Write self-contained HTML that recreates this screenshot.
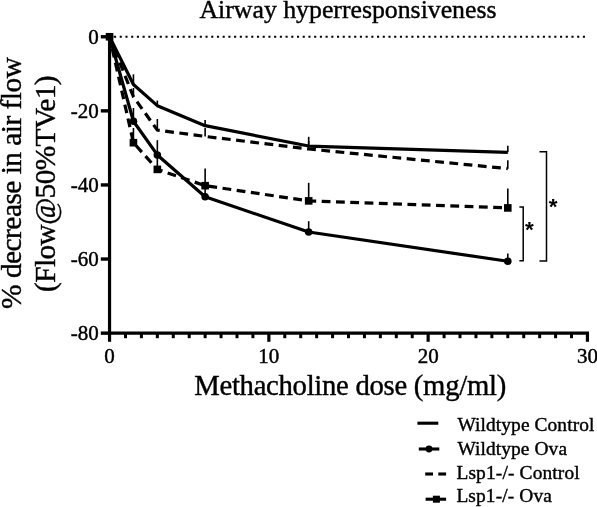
<!DOCTYPE html>
<html><head><meta charset="utf-8"><title>Airway hyperresponsiveness</title>
<style>html,body{margin:0;padding:0;background:#fff}svg{display:block}</style></head>
<body>
<svg width="597" height="507" viewBox="0 0 597 507">
<rect width="597" height="507" fill="#fff"/>
<line x1="114.0" y1="36.75" x2="585.2" y2="36.75" stroke="#000" stroke-width="2.1" stroke-dasharray="2.1 3.618"/>
<line x1="133.44" y1="84.54" x2="133.44" y2="74.3" stroke="#000" stroke-width="1.6"/>
<line x1="157.34" y1="105.66" x2="157.34" y2="100.5" stroke="#000" stroke-width="1.6"/>
<line x1="205.13" y1="125.67" x2="205.13" y2="120" stroke="#000" stroke-width="1.6"/>
<line x1="308.68" y1="146.05" x2="308.68" y2="136.8" stroke="#000" stroke-width="1.6"/>
<line x1="507.8" y1="152.35" x2="507.8" y2="145.8" stroke="#000" stroke-width="1.6"/>
<line x1="133.44" y1="96.77" x2="133.44" y2="88" stroke="#000" stroke-width="1.6"/>
<line x1="157.34" y1="130.12" x2="157.34" y2="119" stroke="#000" stroke-width="1.6"/>
<line x1="205.13" y1="136.41" x2="205.13" y2="128" stroke="#000" stroke-width="1.6"/>
<line x1="308.68" y1="149.01" x2="308.68" y2="141" stroke="#000" stroke-width="1.6"/>
<line x1="507.8" y1="168.65" x2="507.8" y2="160.2" stroke="#000" stroke-width="1.6"/>
<line x1="133.44" y1="121.22" x2="133.44" y2="108" stroke="#000" stroke-width="1.6"/>
<line x1="157.34" y1="154.94" x2="157.34" y2="140.2" stroke="#000" stroke-width="1.6"/>
<line x1="205.13" y1="196.81" x2="205.13" y2="188" stroke="#000" stroke-width="1.6"/>
<line x1="308.68" y1="232.0" x2="308.68" y2="221.2" stroke="#000" stroke-width="1.6"/>
<line x1="507.8" y1="261.27" x2="507.8" y2="253.4" stroke="#000" stroke-width="1.6"/>
<line x1="133.44" y1="142.71" x2="133.44" y2="128" stroke="#000" stroke-width="1.6"/>
<line x1="157.34" y1="169.39" x2="157.34" y2="158" stroke="#000" stroke-width="1.6"/>
<line x1="205.13" y1="185.69" x2="205.13" y2="168.4" stroke="#000" stroke-width="1.6"/>
<line x1="308.68" y1="200.88" x2="308.68" y2="182.8" stroke="#000" stroke-width="1.6"/>
<line x1="507.8" y1="207.92" x2="507.8" y2="188.4" stroke="#000" stroke-width="1.6"/>
<polyline points="109.55,36.75 133.44,84.54 157.34,105.66 205.13,125.67 308.68,146.05 507.8,152.35" fill="none" stroke="#000" stroke-width="3.2" stroke-linejoin="round"/>
<polyline points="109.55,36.75 133.44,96.77 157.34,130.12 205.13,136.41 308.68,149.01 507.8,168.65" fill="none" stroke="#000" stroke-width="3.2" stroke-linejoin="round" stroke-dasharray="8.8 5.5" stroke-dashoffset="0.87"/>
<polyline points="109.55,36.75 133.44,121.22 157.34,154.94 205.13,196.81 308.68,232.0 507.8,261.27" fill="none" stroke="#000" stroke-width="3.2" stroke-linejoin="round"/>
<polyline points="109.55,36.75 133.44,142.71 157.34,169.39 205.13,185.69 308.68,200.88 507.8,207.92" fill="none" stroke="#000" stroke-width="3.2" stroke-linejoin="round" stroke-dasharray="8.8 5.5" stroke-dashoffset="1.98"/>
<circle cx="109.55" cy="36.75" r="3.8" fill="#000"/>
<circle cx="133.44" cy="121.22" r="3.8" fill="#000"/>
<circle cx="157.34" cy="154.94" r="3.8" fill="#000"/>
<circle cx="205.13" cy="196.81" r="3.8" fill="#000"/>
<circle cx="308.68" cy="232.0" r="3.8" fill="#000"/>
<circle cx="507.8" cy="261.27" r="3.8" fill="#000"/>
<rect x="105.75" y="32.95" width="7.6" height="7.6" fill="#000"/>
<rect x="129.64" y="138.91" width="7.6" height="7.6" fill="#000"/>
<rect x="153.54" y="165.58999999999997" width="7.6" height="7.6" fill="#000"/>
<rect x="201.32999999999998" y="181.89" width="7.6" height="7.6" fill="#000"/>
<rect x="304.88" y="197.07999999999998" width="7.6" height="7.6" fill="#000"/>
<rect x="504.0" y="204.11999999999998" width="7.6" height="7.6" fill="#000"/>
<line x1="109.55" y1="35.05" x2="109.55" y2="334.8" stroke="#000" stroke-width="3.2"/>
<line x1="107.95" y1="333.1" x2="589" y2="333.1" stroke="#000" stroke-width="3.4"/>
<line x1="100.8" y1="36.75" x2="109.55" y2="36.75" stroke="#000" stroke-width="3.4"/>
<line x1="100.8" y1="110.85" x2="109.55" y2="110.85" stroke="#000" stroke-width="3.4"/>
<line x1="100.8" y1="184.95" x2="109.55" y2="184.95" stroke="#000" stroke-width="3.4"/>
<line x1="100.8" y1="259.05" x2="109.55" y2="259.05" stroke="#000" stroke-width="3.4"/>
<line x1="100.8" y1="333.15" x2="109.55" y2="333.15" stroke="#000" stroke-width="3.4"/>
<line x1="109.55" y1="333.1" x2="109.55" y2="341.8" stroke="#000" stroke-width="3.2"/>
<line x1="125.48" y1="333.1" x2="125.48" y2="338.2" stroke="#000" stroke-width="3"/>
<line x1="141.41" y1="333.1" x2="141.41" y2="338.2" stroke="#000" stroke-width="3"/>
<line x1="157.34" y1="333.1" x2="157.34" y2="338.2" stroke="#000" stroke-width="3"/>
<line x1="173.27" y1="333.1" x2="173.27" y2="338.2" stroke="#000" stroke-width="3"/>
<line x1="189.2" y1="333.1" x2="189.2" y2="338.2" stroke="#000" stroke-width="3"/>
<line x1="205.13" y1="333.1" x2="205.13" y2="338.2" stroke="#000" stroke-width="3"/>
<line x1="221.06" y1="333.1" x2="221.06" y2="338.2" stroke="#000" stroke-width="3"/>
<line x1="236.99" y1="333.1" x2="236.99" y2="338.2" stroke="#000" stroke-width="3"/>
<line x1="252.92" y1="333.1" x2="252.92" y2="338.2" stroke="#000" stroke-width="3"/>
<line x1="268.85" y1="333.1" x2="268.85" y2="341.8" stroke="#000" stroke-width="3.2"/>
<line x1="284.78" y1="333.1" x2="284.78" y2="338.2" stroke="#000" stroke-width="3"/>
<line x1="300.71" y1="333.1" x2="300.71" y2="338.2" stroke="#000" stroke-width="3"/>
<line x1="316.64" y1="333.1" x2="316.64" y2="338.2" stroke="#000" stroke-width="3"/>
<line x1="332.57" y1="333.1" x2="332.57" y2="338.2" stroke="#000" stroke-width="3"/>
<line x1="348.5" y1="333.1" x2="348.5" y2="338.2" stroke="#000" stroke-width="3"/>
<line x1="364.43" y1="333.1" x2="364.43" y2="338.2" stroke="#000" stroke-width="3"/>
<line x1="380.36" y1="333.1" x2="380.36" y2="338.2" stroke="#000" stroke-width="3"/>
<line x1="396.29" y1="333.1" x2="396.29" y2="338.2" stroke="#000" stroke-width="3"/>
<line x1="412.22" y1="333.1" x2="412.22" y2="338.2" stroke="#000" stroke-width="3"/>
<line x1="428.15" y1="333.1" x2="428.15" y2="341.8" stroke="#000" stroke-width="3.2"/>
<line x1="444.08" y1="333.1" x2="444.08" y2="338.2" stroke="#000" stroke-width="3"/>
<line x1="460.01" y1="333.1" x2="460.01" y2="338.2" stroke="#000" stroke-width="3"/>
<line x1="475.94" y1="333.1" x2="475.94" y2="338.2" stroke="#000" stroke-width="3"/>
<line x1="491.87" y1="333.1" x2="491.87" y2="338.2" stroke="#000" stroke-width="3"/>
<line x1="507.8" y1="333.1" x2="507.8" y2="338.2" stroke="#000" stroke-width="3"/>
<line x1="523.73" y1="333.1" x2="523.73" y2="338.2" stroke="#000" stroke-width="3"/>
<line x1="539.66" y1="333.1" x2="539.66" y2="338.2" stroke="#000" stroke-width="3"/>
<line x1="555.59" y1="333.1" x2="555.59" y2="338.2" stroke="#000" stroke-width="3"/>
<line x1="571.52" y1="333.1" x2="571.52" y2="338.2" stroke="#000" stroke-width="3"/>
<line x1="587.45" y1="333.1" x2="587.45" y2="341.8" stroke="#000" stroke-width="3.2"/>
<text x="98.8" y="43.85" text-anchor="end" font-family="Liberation Serif, Times New Roman, serif" font-size="21" stroke="#000" stroke-width="0.45">0</text>
<text x="98.8" y="117.94999999999999" text-anchor="end" font-family="Liberation Serif, Times New Roman, serif" font-size="21" stroke="#000" stroke-width="0.45">-20</text>
<text x="98.8" y="192.04999999999998" text-anchor="end" font-family="Liberation Serif, Times New Roman, serif" font-size="21" stroke="#000" stroke-width="0.45">-40</text>
<text x="98.8" y="266.15000000000003" text-anchor="end" font-family="Liberation Serif, Times New Roman, serif" font-size="21" stroke="#000" stroke-width="0.45">-60</text>
<text x="98.8" y="340.25" text-anchor="end" font-family="Liberation Serif, Times New Roman, serif" font-size="21" stroke="#000" stroke-width="0.45">-80</text>
<text x="109.55" y="363.4" text-anchor="middle" font-family="Liberation Serif, Times New Roman, serif" font-size="21" stroke="#000" stroke-width="0.45">0</text>
<text x="268.85" y="363.4" text-anchor="middle" font-family="Liberation Serif, Times New Roman, serif" font-size="21" stroke="#000" stroke-width="0.45">10</text>
<text x="428.15" y="363.4" text-anchor="middle" font-family="Liberation Serif, Times New Roman, serif" font-size="21" stroke="#000" stroke-width="0.45">20</text>
<text x="587.45" y="363.4" text-anchor="middle" font-family="Liberation Serif, Times New Roman, serif" font-size="21" stroke="#000" stroke-width="0.45">30</text>
<text x="348" y="18.2" text-anchor="middle" font-family="Liberation Serif, Times New Roman, serif" font-size="25.8" textLength="297" lengthAdjust="spacing" stroke="#000" stroke-width="0.4">Airway hyperresponsiveness</text>
<text x="350.2" y="394.6" text-anchor="middle" font-family="Liberation Serif, Times New Roman, serif" font-size="28.7" textLength="312" lengthAdjust="spacing" stroke="#000" stroke-width="0.4">Methacholine dose (mg/ml)</text>
<text transform="translate(21.4,183) rotate(-90)" text-anchor="middle" font-family="Liberation Serif, Times New Roman, serif" font-size="29.4" textLength="251.8" lengthAdjust="spacing" stroke="#000" stroke-width="0.4">% decrease in air flow</text>
<text transform="translate(54.6,183.7) rotate(-90)" text-anchor="middle" font-family="Liberation Serif, Times New Roman, serif" font-size="29.4" textLength="216.6" lengthAdjust="spacing" stroke="#000" stroke-width="0.4">(Flow@50%TVe1)</text>
<polyline points="519.4,207 523.2,207 523.2,260.8 519.4,260.8" fill="none" stroke="#000" stroke-width="1.5"/>
<polyline points="539.5,151.8 546.5,151.8 546.5,261 539.5,261" fill="none" stroke="#000" stroke-width="1.5"/>
<text x="529.4" y="236.5" text-anchor="middle" font-family="Liberation Sans, Arial, sans-serif" font-size="22.5" font-weight="bold">*</text>
<text x="553.2" y="214.3" text-anchor="middle" font-family="Liberation Sans, Arial, sans-serif" font-size="22.5" font-weight="bold">*</text>
<line x1="417.4" y1="423.2" x2="438.3" y2="423.2" stroke="#000" stroke-width="3.1"/>
<line x1="418.8" y1="449" x2="439.3" y2="449" stroke="#000" stroke-width="3.1"/><circle cx="429" cy="449" r="3.4" fill="#000"/>
<line x1="425.2" y1="474" x2="433" y2="474" stroke="#000" stroke-width="3.1"/><line x1="438.3" y1="474" x2="446.1" y2="474" stroke="#000" stroke-width="3.1"/>
<line x1="425.6" y1="499.2" x2="446.1" y2="499.2" stroke="#000" stroke-width="3.1"/><rect x="432.9" y="495.7" width="7" height="7" fill="#000"/>
<text x="457.4" y="430.7" font-family="Liberation Serif, Times New Roman, serif" font-size="19.4" textLength="137" lengthAdjust="spacing" stroke="#000" stroke-width="0.4">Wildtype Control</text>
<text x="457.4" y="454.9" font-family="Liberation Serif, Times New Roman, serif" font-size="19.4" textLength="109.6" lengthAdjust="spacing" stroke="#000" stroke-width="0.4">Wildtype Ova</text>
<text x="456.4" y="478.5" font-family="Liberation Serif, Times New Roman, serif" font-size="19.4" textLength="123.3" lengthAdjust="spacing" stroke="#000" stroke-width="0.4">Lsp1-/- Control</text>
<text x="456.4" y="502.2" font-family="Liberation Serif, Times New Roman, serif" font-size="19.4" textLength="95.4" lengthAdjust="spacing" stroke="#000" stroke-width="0.4">Lsp1-/- Ova</text>
</svg>
</body></html>
